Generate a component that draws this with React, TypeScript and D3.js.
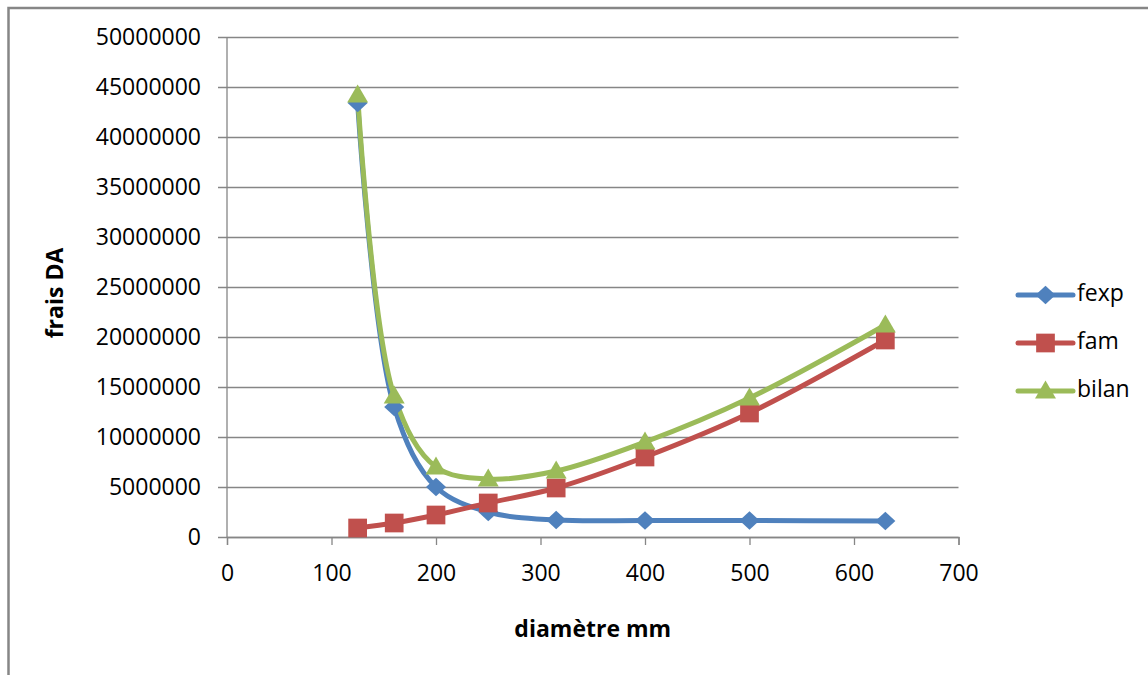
import * as d3 from "d3";
import { useRef, useEffect } from "react";

// diameters (mm) and costs (DA)
const diameters = [125, 160, 200, 250, 315, 400, 500, 630];
const fexp = [43400000, 13000000, 5000000, 2500000, 1700000, 1650000, 1650000, 1600000];
const fam = [900000, 1400000, 2200000, 3400000, 4900000, 8000000, 12400000, 19700000];
const bilan = [44200000, 14100000, 7000000, 5800000, 6600000, 9500000, 13900000, 21200000];

const seriesNames = ["fexp", "fam", "bilan"];
const seriesValues = [fexp, fam, bilan];
const colors = ["#4F81BD", "#C0504D", "#9BBB59"];

const xTicks = [0, 100, 200, 300, 400, 500, 600, 700];
const yTicks = [0, 5000000, 10000000, 15000000, 20000000, 25000000, 30000000, 35000000, 40000000, 45000000, 50000000];

const FONT = "'Open Sans', sans-serif";
const GRID = "#868686";
const FS = 23;

// excel-like diamond: a bit wider than tall
const excelDiamond = {
    draw(ctx: any, size: number) {
        const r = Math.sqrt(size / 2);
        ctx.moveTo(0, -r * 0.92);
        ctx.lineTo(r, 0);
        ctx.lineTo(0, r * 0.92);
        ctx.lineTo(-r, 0);
        ctx.closePath();
    },
};
const markers: any[] = [excelDiamond, d3.symbolSquare, d3.symbolTriangle];
const markerSizes = [200, 350, 190];

export default function App() {
    const width = 1148;
    const height = 675;
    const marginLeft = 227;
    const marginRight = 190;
    const marginTop = 37;
    const marginBottom = 138;

    const gx = useRef<SVGGElement>(null);
    const gy = useRef<SVGGElement>(null);

    const x = d3.scaleLinear([0, 700], [marginLeft, width - marginRight + 0.5]);
    const y = d3.scaleLinear([0, 50000000], [height - marginBottom, marginTop]);

    const line = d3
        .line<number>()
        .x((_d, i) => x(diameters[i]))
        .y((d) => y(d))
        .curve(d3.curveCatmullRom.alpha(0.5));

    useEffect(() => {
        if (gx.current) {
            const g = d3.select(gx.current);
            g.selectAll("*").remove();
            g.call(d3.axisBottom(x).tickValues(xTicks).tickSize(8).tickPadding(20).tickFormat(d3.format("d")));
            g.select(".domain").attr("stroke", GRID).attr("stroke-width", 1.3);
            g.selectAll(".tick line").attr("stroke", GRID).attr("stroke-width", 1.3);
            g.selectAll(".tick text")
                .attr("font-family", FONT)
                .attr("font-size", FS)
                .attr("fill", "#000");
        }
        if (gy.current) {
            const g = d3.select(gy.current);
            g.selectAll("*").remove();
            g.call(
                d3
                    .axisLeft(y)
                    .tickValues(yTicks)
                    .tickSize(-(width - marginRight - marginLeft))
                    .tickFormat(d3.format("d"))
            );
            g.select(".domain").remove();
            g.selectAll(".tick line")
                .attr("stroke", GRID)
                .attr("stroke-width", 1.3)
                .attr("x1", -9)
                .attr("x2", width - marginRight - marginLeft + 0.5);
            g.selectAll(".tick text")
                .attr("x", -26)
                .attr("font-family", FONT)
                .attr("font-size", FS)
                .attr("fill", "#000");
        }
    }, [gx, gy, x, y]);

    return (
        <svg
            width={width}
            height={height}
            style={{ position: "absolute", left: 0, top: 0, background: "#fff" }}
        >
            <rect x={8.5} y={8} width={1300} height={800} fill="none" stroke={GRID} strokeWidth={2.5} />
            <g ref={gy} transform={`translate(${marginLeft},0)`} />
            <line
                x1={marginLeft}
                x2={marginLeft}
                y1={marginTop}
                y2={height - marginBottom}
                stroke={GRID}
                strokeWidth={1.3}
            />
            <g ref={gx} transform={`translate(0,${height - marginBottom})`} />

            {seriesValues.map((vals, s) => (
                <path
                    key={seriesNames[s]}
                    fill="none"
                    stroke={colors[s]}
                    strokeWidth={5}
                    strokeLinejoin="round"
                    d={line(vals) || ""}
                />
            ))}
            {seriesValues.map((vals, s) => (
                <g key={seriesNames[s] + "-m"} fill={colors[s]}>
                    {vals.map((v, i) => (
                        <path
                            key={i}
                            transform={`translate(${x(diameters[i])},${y(v) + (s === 2 ? 1.5 : 0)})`}
                            d={d3.symbol(markers[s], markerSizes[s])() || ""}
                        />
                    ))}
                </g>
            ))}

            <text
                x={x(350)}
                y={631}
                textAnchor="middle"
                dominantBaseline="middle"
                fontFamily={FONT}
                fontWeight="bold"
                fontSize={FS}
            >
                diamètre mm
            </text>
            <text
                transform={`translate(57,${y(25000000) + 6}) rotate(-90)`}
                textAnchor="middle"
                dominantBaseline="middle"
                fontFamily={FONT}
                fontWeight="bold"
                fontSize={FS}
            >
                frais DA
            </text>

            {seriesNames.map((name, s) => (
                <g key={name} transform={`translate(1018,${295 + s * 48})`}>
                    <line x1={0} x2={55} y1={0} y2={0} stroke={colors[s]} strokeWidth={5} strokeLinecap="round" />
                    <path
                        transform={`translate(27.5,${s === 2 ? 1.5 : 0})`}
                        fill={colors[s]}
                        d={d3.symbol(markers[s], markerSizes[s])() || ""}
                    />
                    <text
                        x={59}
                        y={0}
                        dominantBaseline="middle"
                        fontFamily={FONT}
                        fontSize={FS}
                    >
                        {name}
                    </text>
                </g>
            ))}
        </svg>
    );
}
